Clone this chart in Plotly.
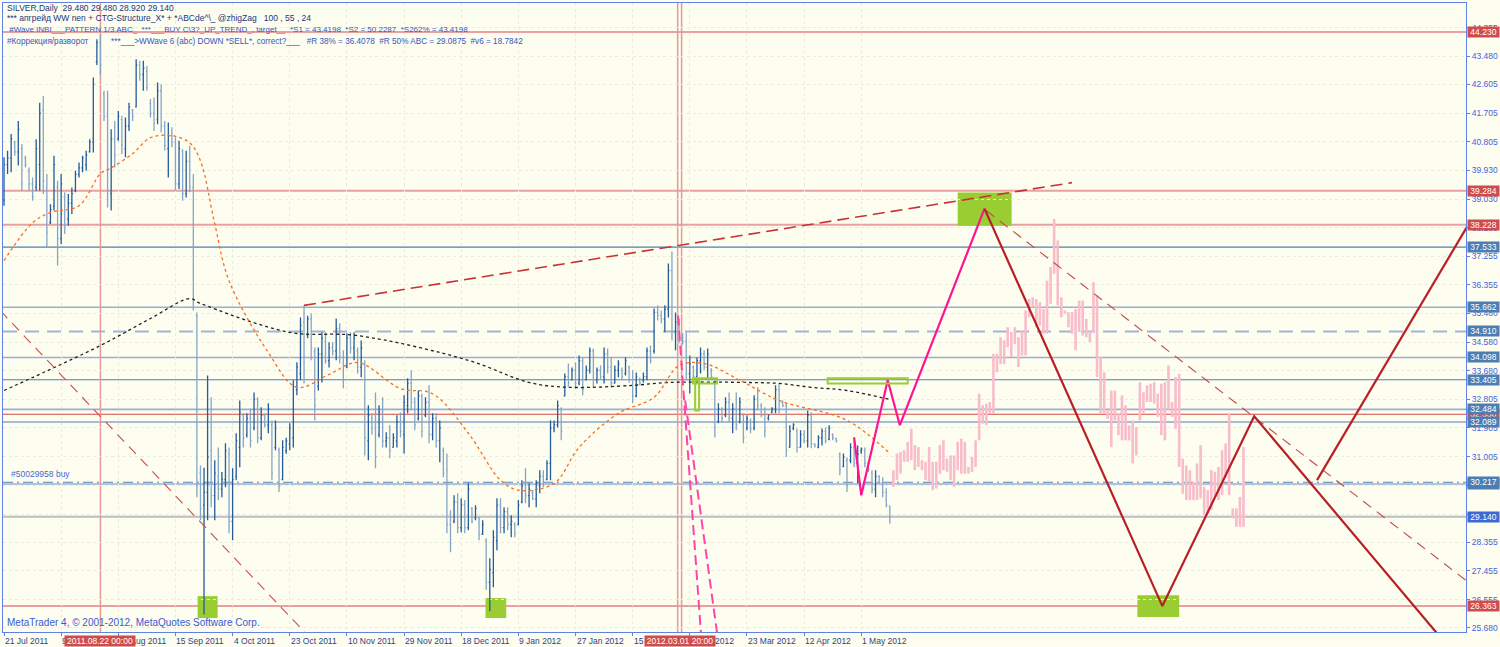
import plotly.graph_objects as go

# ---------------- price bars (daily, position in list = bar number) ----------------
bar_high = [
 40.33, 40.53, 41.05, 40.84, 41.46, 40.74, 40.38, 40.01, 39.70, 40.89,
 42.03, 42.24, 39.81, 38.87, 40.38, 39.60, 39.81, 39.24, 39.19, 39.39,
 39.91, 40.17, 40.38, 40.53, 40.89, 42.81, 44.00, 44.15, 42.40, 42.40,
 41.20, 41.46, 41.77, 41.62, 41.57, 42.03, 41.83, 43.38, 43.33, 43.33,
 43.17, 42.14, 42.19, 42.66, 42.60, 41.46, 41.41, 41.26, 40.95, 40.84,
 40.58, 40.53, 40.69, 39.81, 35.50, 30.74, 30.67, 33.54, 32.86, 30.90,
 31.30, 30.53, 31.43, 31.30, 30.65, 31.74, 32.76, 32.36, 32.36, 32.51,
 33.01, 32.86, 32.55, 32.36, 32.67, 32.14, 32.14, 31.30, 31.52, 31.60,
 32.05, 33.39, 33.95, 35.34, 35.72, 35.40, 35.47, 34.41, 34.41, 34.88,
 34.88, 34.57, 34.57, 35.31, 35.16, 34.32, 34.85, 34.88, 34.88, 34.41,
 34.63, 34.01, 32.61, 32.36, 33.01, 32.61, 32.86, 31.77, 31.99, 31.74,
 32.30, 32.39, 32.92, 33.45, 33.70, 32.86, 33.07, 32.98, 32.86, 33.23,
 32.36, 32.36, 32.14, 31.30, 31.11, 29.34, 29.81, 29.87, 29.72, 29.66,
 30.18, 29.44, 29.50, 29.13, 29.03, 28.47, 27.85, 28.72, 29.72, 29.72,
 29.44, 29.44, 29.19, 28.97, 29.66, 30.28, 30.65, 30.18, 29.97, 30.28,
 30.59, 30.59, 30.90, 32.14, 32.14, 32.76, 32.55, 33.60, 33.91, 33.79,
 33.95, 34.16, 34.10, 33.85, 34.41, 34.38, 33.79, 33.85, 34.41, 34.38,
 34.10, 33.85, 34.01, 33.79, 34.10, 33.85, 33.70, 33.63, 33.48, 33.63,
 34.41, 34.47, 35.62, 35.72, 35.56, 35.72, 37.02, 37.40, 35.50, 35.31,
 34.85, 34.88, 34.16, 33.85, 34.10, 34.41, 34.32, 34.38, 33.76, 33.39,
 32.67, 32.55, 32.86, 33.01, 32.67, 33.01, 32.86, 32.36, 32.30, 32.20,
 32.92, 33.17, 32.67, 32.55, 32.30, 32.55, 33.23, 33.29, 32.76, 32.67,
 31.99, 32.05, 31.89, 31.83, 31.83, 32.45, 32.39, 31.43, 31.68, 31.89,
 31.92, 31.99, 31.74, 31.60, 31.14, 31.11, 30.99, 31.43, 31.61, 31.36,
 31.30, 31.30, 30.84, 30.59, 30.59, 30.43, 30.37, 30.03, 29.48]
bar_low = [
 38.82, 39.81, 39.86, 40.38, 40.07, 39.29, 40.01, 39.29, 38.98, 39.29,
 39.29, 39.19, 37.53, 38.25, 38.67, 36.96, 37.63, 37.94, 38.20, 38.56,
 39.24, 39.70, 39.86, 39.91, 40.48, 40.48, 43.20, 42.90, 41.46, 38.77,
 38.67, 40.01, 40.84, 40.43, 40.33, 41.15, 41.46, 41.88, 42.71, 42.40,
 42.40, 41.57, 41.15, 41.36, 41.10, 40.53, 39.70, 40.64, 39.29, 39.34,
 38.98, 39.08, 39.24, 35.56, 29.75, 29.03, 26.10, 29.03, 29.44, 29.03,
 29.66, 29.75, 30.06, 28.63, 28.41, 30.28, 30.68, 31.30, 31.61, 31.30,
 31.83, 31.43, 31.52, 31.92, 31.74, 30.28, 31.21, 29.91, 30.28, 31.10,
 31.21, 31.30, 32.92, 33.39, 33.29, 34.70, 34.01, 32.14, 33.07, 33.32,
 33.91, 33.79, 34.16, 34.01, 33.91, 33.14, 33.76, 34.22, 34.01, 33.60,
 33.48, 31.05, 30.90, 31.70, 30.65, 31.61, 31.30, 31.30, 30.96, 31.30,
 31.30, 31.61, 31.11, 32.36, 32.45, 31.83, 32.14, 31.61, 32.24, 31.43,
 31.52, 31.30, 30.84, 30.37, 28.63, 28.04, 28.94, 28.63, 28.66, 28.63,
 28.72, 28.94, 29.03, 28.41, 28.57, 26.86, 26.20, 26.95, 28.10, 28.63,
 28.63, 28.72, 28.50, 28.50, 28.88, 29.56, 29.56, 29.44, 29.66, 29.44,
 29.87, 30.06, 30.28, 30.28, 31.77, 31.92, 31.52, 32.90, 33.17, 33.39,
 33.14, 33.23, 32.92, 33.39, 33.60, 33.17, 33.29, 33.40, 33.29, 33.60,
 33.17, 33.29, 33.48, 33.39, 33.54, 33.32, 32.67, 32.86, 33.23, 33.32,
 33.39, 33.91, 34.22, 35.25, 35.16, 34.88, 35.34, 34.63, 34.32, 34.54,
 34.50, 33.39, 32.98, 33.39, 33.48, 33.60, 33.70, 33.45, 33.39, 31.61,
 32.05, 32.08, 32.24, 32.08, 31.74, 31.83, 32.05, 31.43, 31.83, 31.74,
 31.83, 32.45, 32.24, 31.61, 32.14, 32.36, 32.36, 32.36, 32.55, 31.00,
 31.30, 31.83, 31.14, 31.30, 31.43, 31.30, 31.27, 31.30, 31.27, 31.36,
 31.43, 31.52, 31.52, 31.45, 30.43, 30.68, 29.91, 30.81, 30.68, 30.18,
 31.10, 30.68, 30.53, 29.87, 29.75, 30.18, 29.75, 29.44, 28.92]
bar_open = [
 39.0, 40.1, 40.3, 40.8, 40.5, 40.6, 40.3, 39.9, 39.5, 39.4,
 40.1, 41.8, 39.4, 38.3, 38.8, 39.4, 37.8, 39.1, 38.4, 38.9,
 39.3, 39.8, 40.0, 40.1, 40.5, 40.8, 43.3, 43.9, 42.3, 41.6,
 39.2, 40.9, 40.9, 41.5, 40.6, 41.3, 41.8, 41.9, 43.2, 42.9,
 43.0, 42.0, 41.7, 41.5, 42.4, 41.3, 40.6, 41.0, 40.8, 39.5,
 40.5, 39.2, 40.2, 39.4, 35.4, 30.5, 29.5, 29.9, 31.2, 29.8,
 30.4, 30.0, 30.3, 31.1, 29.0, 30.4, 31.3, 32.3, 31.7, 32.2,
 31.9, 32.8, 31.6, 32.3, 32.0, 32.0, 31.3, 31.2, 30.3, 31.2,
 31.4, 31.6, 33.1, 33.6, 35.2, 34.8, 35.3, 34.3, 33.2, 34.2,
 34.6, 34.0, 34.4, 34.3, 35.0, 34.1, 33.8, 34.7, 34.4, 34.3,
 33.8, 33.9, 31.5, 32.2, 31.9, 31.7, 32.4, 31.5, 31.6, 31.3,
 31.5, 32.1, 31.7, 32.6, 33.3, 32.7, 32.2, 32.9, 32.3, 32.7,
 31.7, 32.2, 31.5, 31.2, 30.6, 28.9, 29.0, 29.6, 28.8, 29.5,
 28.8, 29.4, 29.1, 29.1, 28.6, 28.4, 27.1, 27.4, 28.4, 29.5,
 28.8, 29.3, 28.9, 28.9, 28.9, 29.6, 30.1, 29.8, 29.9, 29.7,
 30.1, 30.4, 30.3, 30.8, 31.9, 32.0, 32.5, 32.9, 33.5, 33.4,
 33.7, 33.3, 34.0, 33.4, 33.7, 34.3, 33.4, 33.7, 33.5, 34.2,
 33.8, 33.3, 33.7, 33.7, 33.6, 33.8, 33.4, 32.9, 33.4, 33.4,
 33.5, 34.3, 34.3, 35.5, 35.4, 35.3, 35.6, 36.8, 34.9, 35.2,
 34.7, 34.6, 33.6, 33.8, 33.5, 34.0, 34.2, 33.8, 33.7, 33.3,
 32.1, 32.5, 32.3, 32.7, 32.2, 32.5, 32.1, 32.3, 31.9, 32.1,
 31.9, 32.8, 32.6, 32.3, 32.2, 32.4, 32.5, 33.1, 32.7, 32.6,
 31.3, 31.9, 31.8, 31.3, 31.7, 31.5, 32.3, 31.4, 31.3, 31.6,
 31.8, 31.55, 31.7, 31.58, 31.1, 30.7, 30.9, 30.9, 31.3, 30.8,
 31.2, 31.2, 30.8, 30.5, 30.0, 30.4, 30.2, 29.9, 29.48]
bar_close = [
 40.1, 40.3, 40.9, 40.5, 41.2, 39.5, 40.1, 39.5, 39.1, 40.6,
 41.7, 39.6, 38.0, 38.7, 40.1, 37.8, 39.5, 38.2, 38.9, 39.2,
 39.8, 40.0, 40.3, 40.4, 40.8, 42.6, 43.9, 43.2, 41.6, 39.3,
 40.9, 40.4, 41.6, 40.7, 41.3, 41.9, 41.6, 43.2, 42.9, 43.1,
 42.5, 41.7, 41.4, 42.4, 41.3, 40.7, 41.0, 40.8, 39.5, 40.6,
 39.2, 40.2, 39.4, 35.9, 30.1, 29.4, 29.9, 31.0, 29.8, 30.5,
 30.0, 30.3, 31.2, 29.0, 30.3, 31.5, 32.4, 31.6, 32.2, 31.5,
 32.8, 31.6, 32.3, 32.0, 32.5, 30.5, 31.9, 30.1, 31.3, 31.5,
 31.9, 33.2, 33.8, 35.1, 34.1, 35.3, 34.4, 32.6, 34.2, 34.7,
 34.0, 34.4, 34.3, 35.0, 34.1, 33.4, 34.7, 34.4, 34.7, 33.8,
 34.4, 31.6, 32.3, 31.9, 31.0, 32.4, 31.5, 31.6, 31.2, 31.6,
 32.1, 31.8, 32.7, 33.3, 32.7, 32.0, 32.9, 31.8, 32.7, 31.7,
 32.2, 31.5, 31.9, 30.5, 28.9, 28.3, 29.6, 28.8, 29.5, 28.8,
 30.0, 29.0, 29.4, 28.6, 28.9, 27.1, 27.5, 28.5, 29.5, 28.8,
 29.3, 28.9, 29.0, 28.6, 29.5, 30.1, 29.8, 30.0, 29.7, 30.2,
 30.4, 30.2, 30.8, 31.9, 32.0, 32.6, 31.8, 33.5, 33.3, 33.7,
 33.3, 34.0, 33.1, 33.7, 34.3, 33.4, 33.7, 33.5, 34.2, 33.8,
 33.3, 33.7, 33.9, 33.5, 34.0, 33.4, 32.9, 33.5, 33.3, 33.5,
 34.3, 34.0, 35.5, 35.4, 35.3, 35.6, 36.8, 34.9, 35.2, 34.7,
 34.6, 33.6, 33.9, 33.5, 34.0, 34.2, 33.8, 34.2, 33.5, 31.9,
 32.5, 32.2, 32.7, 32.2, 32.5, 32.0, 32.7, 31.6, 32.2, 31.9,
 32.8, 32.6, 32.3, 31.8, 32.3, 32.5, 33.1, 32.5, 32.6, 31.2,
 31.8, 32.0, 31.3, 31.7, 31.5, 32.3, 31.4, 31.35, 31.6, 31.8,
 31.5, 31.9, 31.6, 31.5, 30.6, 31.0, 30.1, 31.3, 30.8, 31.1,
 31.25, 30.8, 30.6, 30.0, 30.4, 30.2, 29.9, 29.5, 29.14]

# ---------------- projected (pink) bars ----------------
proj_start = 249
proj_high = [
 30.59, 31.11, 31.16, 31.21, 31.47, 31.88, 31.37, 31.31, 30.90, 30.85,
 31.31, 30.85, 30.85, 31.37, 31.52, 30.95, 31.05, 31.05, 31.47, 31.57,
 31.47, 30.69, 31.00, 31.52, 32.97, 32.61, 32.66, 32.71, 34.21, 34.21,
 34.73, 34.63, 35.04, 34.89, 35.04, 34.73, 34.94, 35.56, 35.92, 35.97,
 35.92, 35.82, 35.61, 36.49, 36.91, 38.41, 37.74, 35.97, 35.56, 35.51,
 35.51, 35.61, 35.87, 35.87, 35.30, 34.94, 36.44, 36.03, 34.11, 33.64,
 32.45, 33.07, 33.07, 32.35, 32.92, 32.61, 31.99, 32.14, 31.93, 33.33,
 33.02, 33.23, 33.28, 33.33, 32.97, 33.28, 33.33, 33.85, 32.71, 33.49,
 33.59, 30.95, 30.74, 30.59, 30.23, 30.80, 31.37, 30.07, 29.97, 30.59,
 30.54, 30.69, 31.21, 31.42, 32.35, 29.40, 29.40, 29.76, 31.31]
proj_low = [
 30.07, 30.28, 30.48, 30.85, 30.85, 30.90, 30.59, 30.69, 30.59, 30.28,
 30.23, 29.97, 30.02, 30.48, 30.59, 30.54, 30.28, 30.07, 30.59, 30.48,
 30.48, 30.48, 30.54, 30.69, 31.52, 32.04, 31.99, 32.35, 32.35, 33.64,
 33.90, 33.90, 34.42, 34.11, 34.52, 33.80, 34.16, 34.16, 35.35, 35.66,
 35.04, 35.09, 34.84, 34.84, 35.77, 36.70, 35.72, 35.35, 35.46, 35.04,
 34.84, 34.32, 34.89, 34.78, 34.73, 34.58, 34.89, 33.49, 32.35, 32.35,
 32.19, 31.31, 32.14, 31.68, 31.52, 31.52, 31.52, 30.80, 31.05, 32.14,
 32.35, 32.71, 32.71, 32.66, 32.25, 31.68, 31.52, 32.45, 32.25, 31.88,
 30.69, 29.86, 29.66, 29.66, 29.66, 29.66, 29.71, 29.19, 29.24, 29.35,
 29.76, 29.66, 29.81, 30.38, 29.81, 29.09, 28.83, 28.83, 28.83]

# ---------------- moving averages (read at sample bars) ----------------
ma_fast_idx = [0, 8, 13, 21, 27, 30, 36, 41, 47, 52, 55, 59, 63, 74, 82, 91, 99, 111,
               120, 130, 139, 144, 154, 161, 172, 182, 189, 196, 206, 217, 236, 248]
ma_fast_val = [37.11, 38.29, 38.61, 38.82, 39.82, 40.00, 40.44, 40.94, 41.00, 40.78, 40.22,
               38.26, 36.49, 34.25, 33.17, 33.57, 33.94, 33.13, 32.97, 31.74, 30.28, 29.97,
               30.18, 31.30, 32.36, 32.86, 33.85, 33.91, 33.39, 32.76, 32.14, 31.11]
ma_slow_idx = [0, 27, 41, 52, 55, 80, 99, 130, 147, 158, 176, 186, 208, 217, 226, 236, 248]
ma_slow_val = [33.07, 34.47, 35.31, 35.93, 35.78, 34.88, 34.78, 34.01, 33.32, 33.17, 33.23,
               33.32, 33.32, 33.29, 33.17, 33.07, 32.79]

# ---------------- drawn objects (bar, price anchors) ----------------
trend_up_idx, trend_up_val = [84, 299], [35.72, 39.54]
trend_left_idx, trend_left_val = [-1, 85], [35.55, 25.45]
trend_right_idx, trend_right_val = [275, 410], [38.67, 27.10]
zig_pink_idx = [238, 240, 247.4, 250.8, 274.5]
zig_pink_val = [31.61, 29.81, 33.39, 31.99, 38.73]
zig_red_idx = [274.5, 324.3, 350, 405]
zig_red_val = [38.73, 26.36, 32.27, 25.01]
ray_red_idx, ray_red_val = [367.6, 412], [30.28, 38.62]
fork_a_idx, fork_a_val = [188.7, 195.1], [35.40, 25.55]
fork_b_idx, fork_b_val = [190.7, 199.6], [32.76, 25.55]

gbox_x0 = [54.2, 134.8, 267.0, 317.3]
gbox_x1 = [59.8, 140.6, 282.1, 329.0]
gbox_y0 = [25.99, 25.99, 38.20, 26.02]
gbox_y1 = [26.67, 26.61, 39.23, 26.70]
gout_x0 = [230.6, 192.9, 193.5]
gout_x1 = [253.0, 199.6, 194.6]
gout_y0 = [33.29, 33.29, 32.45]
gout_y1 = [33.45, 33.45, 33.39]

red_levels = [44.230, 39.284, 38.228, 26.363]
red_thin_levels = [32.330]
blue_solid_levels = [37.533, 33.405, 32.089]
blue_light_levels = [35.662, 34.098, 32.484, 30.160]
blue_dash_levels = [34.910]
blue_dashdot_levels = [30.217]
bid_level = 29.140
vline_idx = [27, 188.6, 189.7]

red_box_prices = [32.330, 44.230, 39.284, 38.228, 26.363]
blue_box_prices = [30.160, 37.533, 35.662, 34.910, 34.098, 33.405, 32.484, 32.089, 30.217]

price_ticks = [44.355, 43.480, 42.605, 41.705, 40.805, 39.930, 39.030, 38.130, 37.255, 36.355,
               35.480, 34.580, 33.680, 32.805, 31.905, 31.005, 30.105, 29.205, 28.355, 27.455,
               26.555, 25.680]
date_tick_idx = [0, 16, 32, 48, 64, 80, 96, 112, 128, 144, 160, 176, 192, 208, 224, 240]
date_tick_text = ['21 Jul 2011', '9 Aug 2011', '28 Aug 2011', '15 Sep 2011', '4 Oct 2011',
                  '23 Oct 2011', '10 Nov 2011', '29 Nov 2011', '18 Dec 2011', '9 Jan 2012',
                  '27 Jan 2012', '15 Feb 2012', '5 Mar 2012', '23 Mar 2012', '12 Apr 2012',
                  '1 May 2012']
date_box_idx = [27, 189.2]
date_box_text = ['2011.08.22 00:00', '2012.03.01 20:00']

header_lines = [
    "SILVER,Daily  29.480 29.480 28.920 29.140",
    "*** апгрейд WW nen + CTG-Structure_X* + *ABCde^\\_ @zhigZag   100 , 55 , 24",
    " #Wave INBI___PATTERN 1/3 ABC_  ***___BUY C\\3?_UP_TREND_, target__  *S1 = 43.4198  *S2 = 50.2287  *S262% = 43.4198",
    "#Коррекция/разворот          ***___>WWave 6 (abc) DOWN *SELL*, correct?___   #R 38% = 36.4078  #R 50% ABC = 29.0875  #v6 = 18.7842",
]
header_size = [8.5, 8.5, 8, 8.2]

# ---------------- figure ----------------
BG = '#fdfdf0'
FONT = 'Liberation Sans, Arial, sans-serif'
AXC = '#5f80e6'


def nb(s):
    return s.replace('  ', '\u00a0\u00a0')


fig = go.Figure()

for x0, x1, y0, y1 in zip(gbox_x0, gbox_x1, gbox_y0, gbox_y1):
    fig.add_shape(type='rect', x0=x0, x1=x1, y0=y0, y1=y1, xref='x', yref='y',
                  fillcolor='#9acd32', line=dict(width=0), layer='below')


def hline(p, color, width, dash='solid'):
    fig.add_shape(type='line', xref='paper', x0=0, x1=1, yref='y', y0=p, y1=p,
                  line=dict(color=color, width=width, dash=dash), layer='below')


for p in blue_light_levels:
    hline(p, '#9ab0cf', 1.6)
for p in blue_dash_levels:
    hline(p, '#9fb5d4', 2, '14px,8px')
for p in blue_solid_levels:
    hline(p, '#4f7fb5', 1.1)
for p in blue_dashdot_levels:
    hline(p, '#5585ba', 1.1, '10px,4px,2px,4px')
hline(bid_level, '#b9bec4', 2)
for p in red_levels:
    hline(p, '#e9a0a0', 2)
for p in red_thin_levels:
    hline(p, '#d04848', 1.1)
for v in vline_idx:
    fig.add_shape(type='line', xref='x', x0=v, x1=v, yref='paper', y0=0, y1=1,
                  line=dict(color='#e89898', width=1.5), layer='below')

fig.add_trace(go.Scatter(x=ma_slow_idx, y=ma_slow_val, mode='lines',
                         line=dict(color='#222222', width=1.3, dash='3px,3px', shape='spline'),
                         hoverinfo='skip'))
fig.add_trace(go.Scatter(x=ma_fast_idx, y=ma_fast_val, mode='lines',
                         line=dict(color='#ff6a20', width=1.3, dash='3px,3px', shape='spline'),
                         hoverinfo='skip'))

px, py = [], []
for k, (h, l) in enumerate(zip(proj_high, proj_low)):
    px += [proj_start + k, proj_start + k, None]
    py += [h, l, None]
fig.add_trace(go.Scatter(x=px, y=py, mode='lines', line=dict(color='#f8bccb', width=2.6),
                         hoverinfo='skip'))

n = min(len(bar_high), len(bar_low), len(bar_open), len(bar_close))
fig.add_trace(go.Ohlc(x=list(range(n)), open=bar_open[:n], high=bar_high[:n],
                      low=bar_low[:n], close=bar_close[:n], tickwidth=0.3,
                      increasing=dict(line=dict(color='#235b9c', width=1.3)),
                      decreasing=dict(line=dict(color='#86a5c6', width=1.3))))

for x0, x1, y0, y1 in zip(gout_x0, gout_x1, gout_y0, gout_y1):
    fig.add_shape(type='rect', x0=x0, x1=x1, y0=y0, y1=y1, xref='x', yref='y',
                  line=dict(color='#9acd32', width=2))


def tline(xs, ys, color, width, dash='solid'):
    fig.add_trace(go.Scatter(x=xs, y=ys, mode='lines', line=dict(color=color, width=width, dash=dash),
                             hoverinfo='skip'))


tline(trend_up_idx, trend_up_val, '#c83232', 1.6, '12px,6px')
tline(trend_left_idx, trend_left_val, '#d04a4a', 1.1, '10px,7px')
tline(trend_right_idx, trend_right_val, '#c04848', 1.1, '10px,7px')
tline(fork_a_idx, fork_a_val, '#ff46a8', 2, '10px,5px')
tline(fork_b_idx, fork_b_val, '#ff46a8', 2, '10px,5px')
tline(zig_pink_idx, zig_pink_val, '#ff1493', 2.2)
tline(zig_red_idx, zig_red_val, '#b82025', 2.2)
tline(ray_red_idx, ray_red_val, '#b82025', 2.2)

ann = []
header_shift = [-5, -15, -26, -38]
for k, t in enumerate(header_lines):
    ann.append(dict(xref='paper', yref='paper', x=0, y=1, xanchor='left', yanchor='middle',
                    xshift=2, yshift=header_shift[k], text=nb(t), showarrow=False,
                    font=dict(family=FONT, size=header_size[k], color='#23357f' if k < 2 else '#3656c0')))
ann.append(dict(xref='paper', yref='paper', x=0, y=0, xanchor='left', yanchor='middle',
                xshift=2, yshift=10, text='MetaTrader 4, © 2001-2012, MetaQuotes Software Corp.',
                showarrow=False, font=dict(family=FONT, size=10, color='#3a5ad0')))
ann.append(dict(xref='x', yref='y', x=1.3, y=30.22, xanchor='left', yanchor='bottom', yshift=1,
                text='#50029958 buy', showarrow=False, font=dict(family=FONT, size=8.5, color='#4a6ad0')))
for i, t in zip(date_tick_idx, date_tick_text):
    ann.append(dict(xref='x', yref='paper', x=i, y=0, xanchor='left', yanchor='top', yshift=-2,
                    xshift=-1, text=t, showarrow=False, font=dict(family=FONT, size=8.5, color='#2c3f8c')))
for i, t in zip(date_box_idx, date_box_text):
    ann.append(dict(xref='x', yref='paper', x=i, y=0, xanchor='center', yanchor='top', yshift=-3,
                    text=t, showarrow=False, bgcolor='#d24b4b', width=70, height=10, borderpad=0,
                    font=dict(family=FONT, size=8.5, color='white')))


def pbox(p, c):
    ann.append(dict(xref='paper', yref='y', x=1, y=p, xanchor='left', yanchor='middle', xshift=1,
                    text='%.3f' % p, showarrow=False, bgcolor=c, width=31, height=10, borderpad=0,
                    font=dict(family=FONT, size=8.5, color='white')))


pbox(red_box_prices[0], '#d24b4b')
pbox(blue_box_prices[0], '#4d7db2')
for p in blue_box_prices[1:]:
    pbox(p, '#4d7db2')
for p in red_box_prices[1:]:
    pbox(p, '#d24b4b')
pbox(bid_level, '#3c6ad2')

fig.update_layout(
    width=1500, height=647, margin=dict(l=2, r=33, t=2, b=15),
    paper_bgcolor=BG, plot_bgcolor=BG, showlegend=False, annotations=ann,
    font=dict(family=FONT),
    xaxis=dict(range=[-0.28, 409.3], rangeslider=dict(visible=False), showline=True, mirror=True,
               linecolor=AXC, linewidth=1, ticks='outside', ticklen=3, tickcolor=AXC,
               tickvals=date_tick_idx, showticklabels=False, showgrid=True, gridcolor='#ececdc',
               griddash='dot', zeroline=False),
    yaxis=dict(range=[25.554, 45.131], side='right', showline=True, mirror=True, linecolor=AXC,
               linewidth=1, ticks='outside', ticklen=3, tickcolor=AXC, tickvals=price_ticks,
               ticktext=['%.3f' % v for v in price_ticks],
               tickfont=dict(family=FONT, size=8.5, color='#4563d8'), showgrid=True,
               gridcolor='#ececdc', griddash='dot', zeroline=False),
)

fig.write_html('out.html', config={'displayModeBar': False},
               post_script="document.body.style.margin='0px';document.body.style.padding='0px';"
                           "document.documentElement.style.overflow='hidden';")
